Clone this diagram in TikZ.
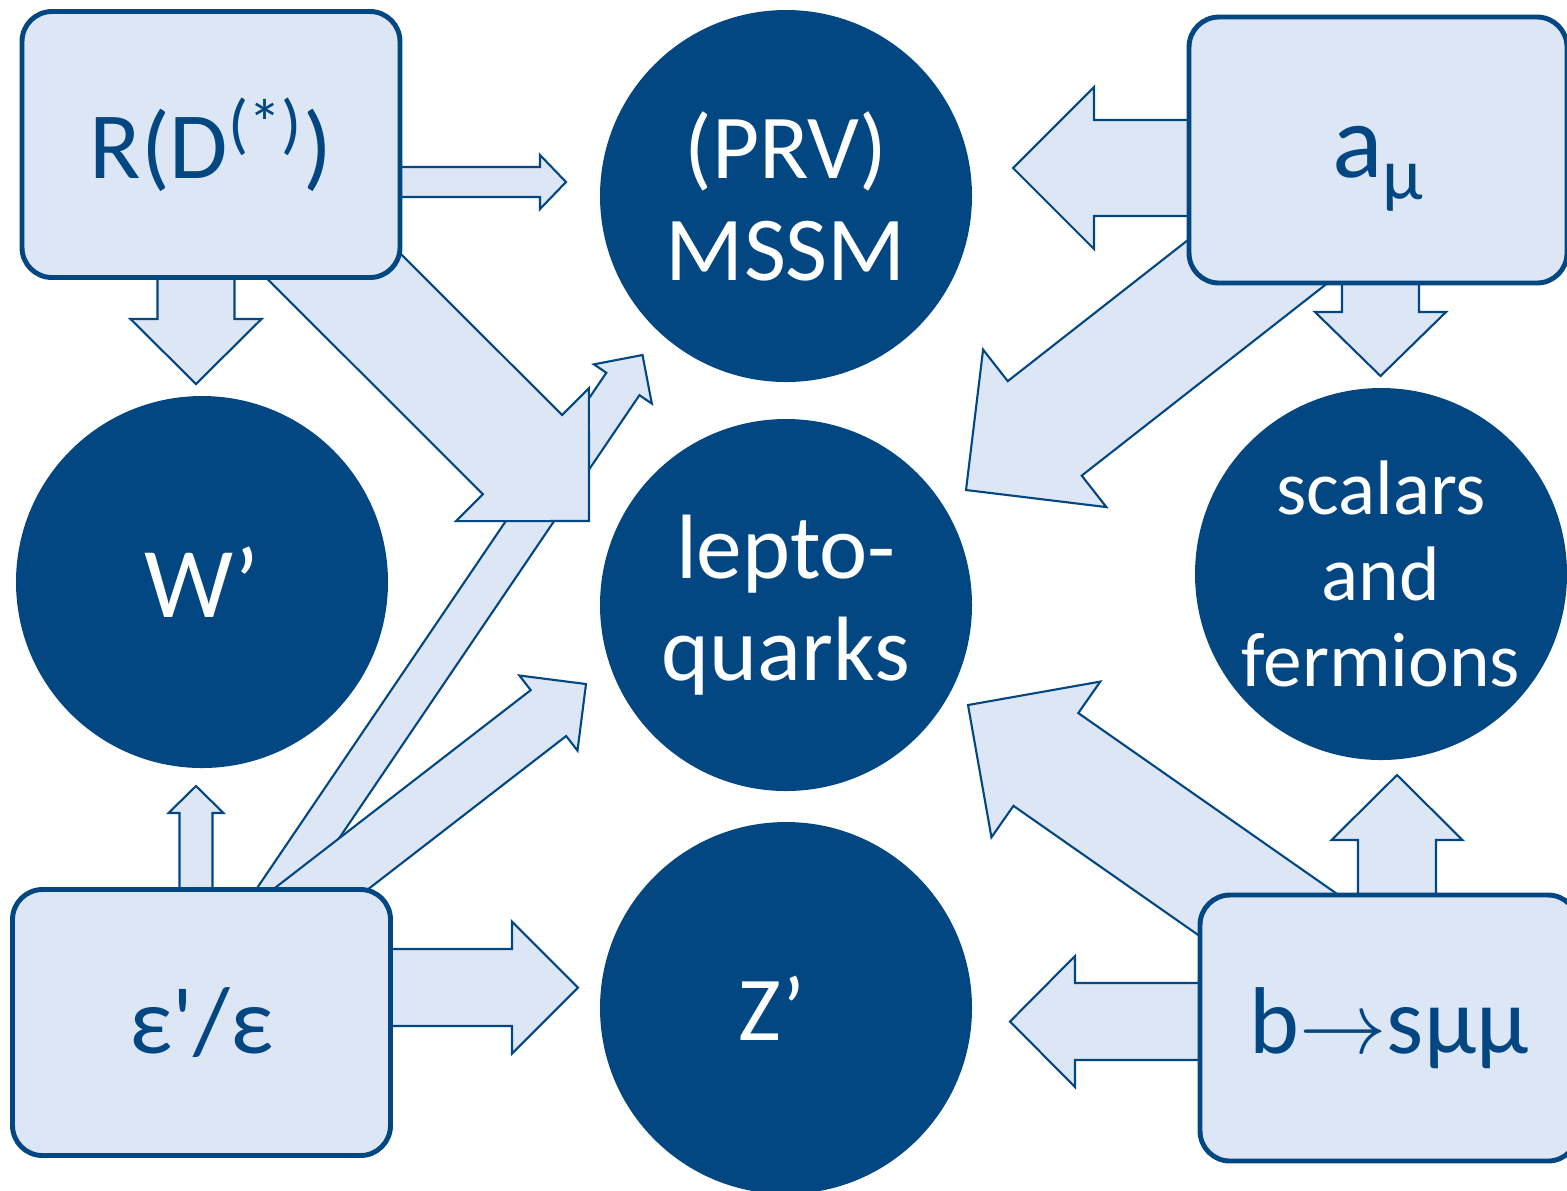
\documentclass[tikz,border=0pt]{standalone}
\usepackage{fontspec}
\setmainfont{Carlito}
\usepackage{tikz}
\usetikzlibrary{calc}
\definecolor{navy}{RGB}{3,71,130}
\definecolor{paleblue}{RGB}{220,230,244}
% fat arrow: from, to, half shaft, half head, head length
\newcommand{\fatarrow}[5]{%
  \coordinate (fa) at ($#2!#5!#1$);
  \draw[fat] ($#1!#3!90:#2$) -- ($(fa)!#3!90:#2$) -- ($(fa)!#4!90:#2$) -- #2
    -- ($(fa)!#4!-90:#2$) -- ($(fa)!#3!-90:#2$) -- ($#1!#3!-90:#2$) -- cycle;
}

\begin{document}
\begin{tikzpicture}[
    x=0.1mm, y=-0.1mm,
    fat/.style={draw=navy, fill=paleblue, line width=0.6pt, line join=miter},
    box/.style={rectangle, draw=navy, fill=paleblue, line width=1.4pt, rounded corners=3mm,
                minimum width=37.8mm, minimum height=26.6mm, inner sep=0pt,
                text=navy, font=\fontsize{27}{30}\selectfont},
    ball/.style={circle, fill=navy, minimum size=37.2mm, inner sep=0pt, align=center,
                 text=white, font=\fontsize{26}{29}\selectfont}
]
\useasboundingbox (0,0) rectangle (1567,1190);

% Arrow ends
\coordinate (rd1) at (380,182);    \coordinate (mssm1) at (566,182);
\coordinate (rd2) at (196,260);    \coordinate (wp1) at (196,384);
\coordinate (rd3) at (250,182.5);  \coordinate (lq1) at (589,521);
\coordinate (eps1) at (246,940);   \coordinate (mssm2) at (642.5,355);
\coordinate (eps2) at (255,940);   \coordinate (lq2) at (586,684);
\coordinate (eps3) at (196,920);   \coordinate (wp2) at (196,786);
\coordinate (eps4) at (370,987.5); \coordinate (zp1) at (578,987.5);
\coordinate (amu1) at (1220,168);  \coordinate (mssm3) at (1013,168);
\coordinate (amu2) at (1344,194);  \coordinate (lq3) at (966,490);
\coordinate (amu3) at (1380.5,260); \coordinate (sf1) at (1380.5,376);
\coordinate (bs1) at (1390,1000);  \coordinate (lq4) at (968,705);
\coordinate (bs2) at (1397,920);   \coordinate (sf2) at (1397,775);
\coordinate (bs3) at (1230,1021.5); \coordinate (zp2) at (1010,1021.5);

% Arrows
\fatarrow{(eps1)}{(mssm2)}{2.0mm}{3.5mm}{3.5mm}
\fatarrow{(eps2)}{(lq2)}{2.9mm}{4.75mm}{4.75mm}
\fatarrow{(rd3)}{(lq1)}{5.6mm}{9.4mm}{9.4mm}
\fatarrow{(rd1)}{(mssm1)}{1.5mm}{2.7mm}{2.6mm}
\fatarrow{(rd2)}{(wp1)}{3.85mm}{6.55mm}{6.5mm}
\fatarrow{(eps3)}{(wp2)}{1.65mm}{2.75mm}{2.7mm}
\fatarrow{(eps4)}{(zp1)}{3.85mm}{6.6mm}{6.6mm}
\fatarrow{(amu1)}{(mssm3)}{4.8mm}{8.1mm}{8.1mm}
\fatarrow{(amu2)}{(lq3)}{6.0mm}{10.0mm}{10.0mm}
\fatarrow{(amu3)}{(sf1)}{3.85mm}{6.55mm}{6.4mm}
\fatarrow{(bs1)}{(lq4)}{5.66mm}{9.5mm}{9.5mm}
\fatarrow{(bs2)}{(sf2)}{3.9mm}{6.55mm}{6.5mm}
\fatarrow{(bs3)}{(zp2)}{3.85mm}{6.55mm}{6.5mm}

% Models
\node[ball] (mssm) at (786,196) {(PRV)\\MSSM};
\node[ball, font=\fontsize{28.5}{31}\selectfont] (wp) at (202,582) {W’};
\node[ball] (lq) at (786,605) {lepto-\\quarks};
\node[ball, font=\fontsize{22}{24.5}\selectfont] (sf) at (1381,574) {scalars\\and\\fermions};
\node[ball] (zp) at (786,1008) {Z’\hspace{8pt}};

% Observables
\node[box] (rd) at (211,144.5) {R(D\textsuperscript{(*)})};
\node[box, font=\fontsize{30}{33}\selectfont, text height=22pt, text depth=6.6pt] (amu)
  at (1378,150) {a\raisebox{-6.3pt}{\fontsize{21}{21}\selectfont μ}};
\node[box] (eps) at (201.5,1022.5) {ε\textquotesingle/ε};
\node[box] (bs) at (1389,1028) {b$\rightarrow$sμμ};
\end{tikzpicture}
\end{document}
